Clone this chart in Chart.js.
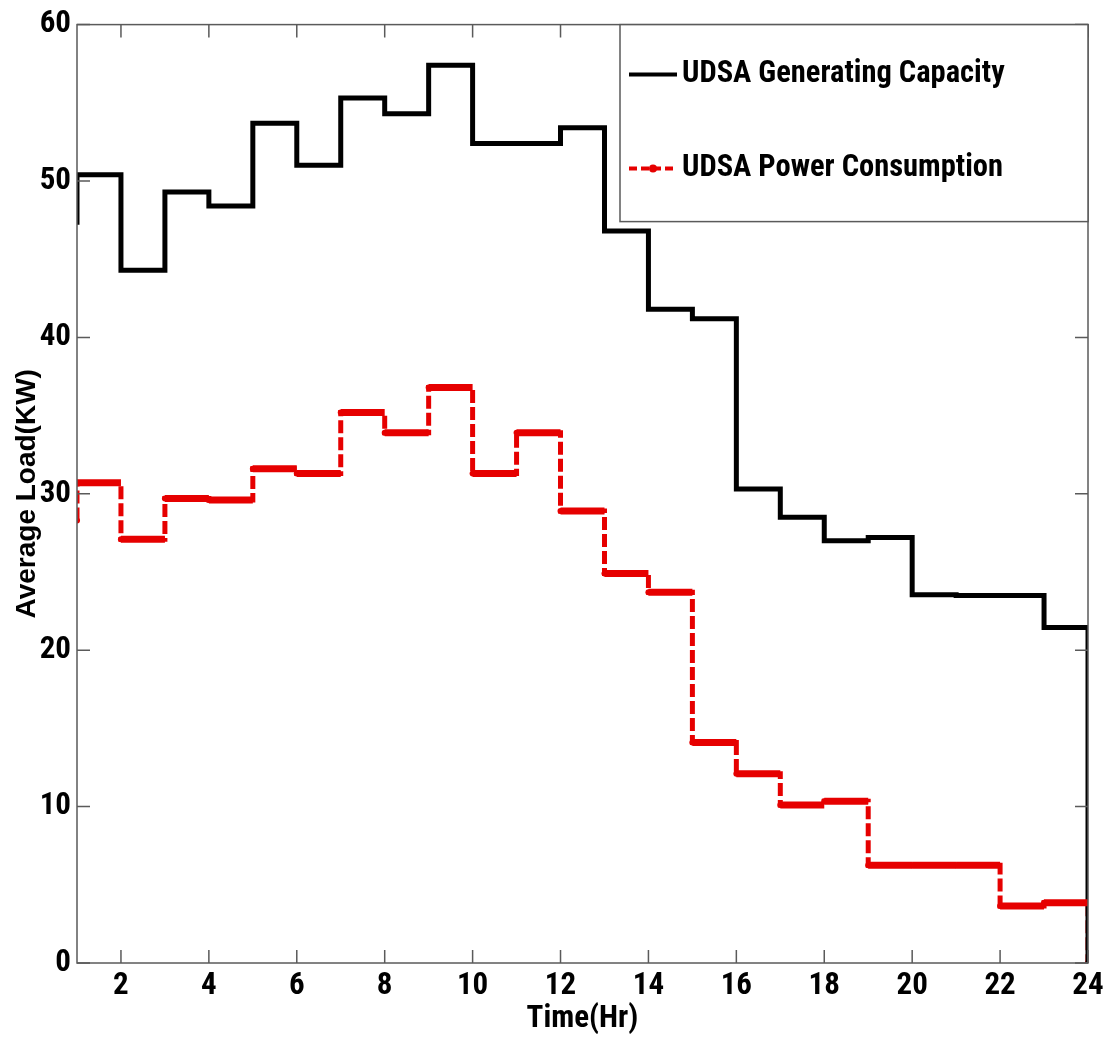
<!DOCTYPE html>
<html>
<head>
<meta charset="utf-8">
<style>
  html, body { margin: 0; padding: 0; background: #fff; }
  #grafico { display: block; }
</style>
</head>
<body>
<canvas id="grafico" width="1111" height="1038"></canvas>
<script src="https://cdn.jsdelivr.net/npm/chart.js@4.4.1/dist/chart.umd.min.js"></script>
<script>
// data (stairs: value i is held from hours[i] to hours[i+1])
const hours = [1, 1, 2, 3, 4, 5, 6, 7, 8, 9, 10, 11, 12, 13, 14, 15, 16, 17, 18, 19, 20, 21, 22, 23, 24];
const generatingCapacity = [47.2, 50.4, 44.3, 49.3, 48.4, 53.7, 51.0, 55.3, 54.3, 57.4, 52.4, 52.4, 53.4, 46.8, 41.8, 41.2, 30.3, 28.5, 27.0, 27.2, 23.55, 23.5, 23.5, 21.45, 0];
const powerConsumption = [28.3, 30.7, 27.1, 29.7, 29.6, 31.6, 31.3, 35.2, 33.9, 36.8, 31.3, 33.9, 28.9, 24.9, 23.7, 14.1, 12.1, 10.1, 10.35, 6.25, 6.25, 6.25, 3.65, 3.85, 0];
const xTicks = [2, 4, 6, 8, 10, 12, 14, 16, 18, 20, 22, 24];
const yTicks = [0, 10, 20, 30, 40, 50, 60];
const seriesNames = ['UDSA Generating Capacity', 'UDSA Power Consumption'];

// Roboto squeezed with font-stretch looks close to arial narrow bold
const narrowFont = size => ({ family: 'Roboto', size: size, weight: 'bold condensed' });
const red = '#e60000';

const toPoints = vals => vals.map((v, i) => ({ x: hours[i], y: v }));

// solid horizontal parts of the red stairs (the dashes only show on the risers)
const redTreads = {
  id: 'redTreads',
  afterDatasetsDraw(chart) {
    const pts = chart.getDatasetMeta(1).data;
    const ctx = chart.ctx, a = chart.chartArea;
    ctx.save();
    ctx.beginPath();
    ctx.rect(a.left, a.top - 5, a.right - a.left + 5, a.bottom - a.top + 10);
    ctx.clip();
    ctx.strokeStyle = red;
    ctx.lineWidth = 7;
    ctx.lineCap = 'butt';
    for (let i = 0; i < pts.length - 1; i++) {
      ctx.beginPath();
      ctx.moveTo(pts[i].x, pts[i].y);
      ctx.lineTo(pts[i + 1].x, pts[i].y);
      ctx.stroke();
    }
    ctx.restore();
  }
};

// box, inward ticks and boxed legend, matlab style
const frameLegend = {
  id: 'frameLegend',
  afterDraw(chart) {
    const ctx = chart.ctx, a = chart.chartArea;
    const sx = chart.scales.x, sy = chart.scales.y;
    const tl = 13;
    ctx.save();
    ctx.strokeStyle = '#5a5a5a';
    ctx.lineWidth = 1.5;
    ctx.strokeRect(a.left, a.top, a.right - a.left, a.bottom - a.top);
    ctx.beginPath();
    xTicks.forEach(v => {
      const px = sx.getPixelForValue(v);
      ctx.moveTo(px, a.bottom); ctx.lineTo(px, a.bottom - tl);
      ctx.moveTo(px, a.top); ctx.lineTo(px, a.top + tl);
    });
    yTicks.forEach(v => {
      const py = sy.getPixelForValue(v);
      ctx.moveTo(a.left, py); ctx.lineTo(a.left + tl, py);
      ctx.moveTo(a.right, py); ctx.lineTo(a.right - tl, py);
    });
    ctx.stroke();

    // legend box
    const w = 468, h = 197;
    const bx = a.right - w, by = a.top;
    ctx.fillStyle = '#fff';
    ctx.fillRect(bx, by, w, h);
    ctx.strokeRect(bx, by, w, h);
    const rows = [by + 50, by + 144];
    chart.data.datasets.forEach((ds, i) => {
      const y = rows[i];
      ctx.save();
      ctx.strokeStyle = ds.borderColor;
      ctx.lineWidth = 4;
      if (i === 1) ctx.setLineDash([8, 4]);
      ctx.beginPath();
      ctx.moveTo(bx + 9, y);
      ctx.lineTo(bx + 57, y);
      ctx.stroke();
      if (i === 1) {
        ctx.fillStyle = ds.borderColor;
        ctx.beginPath();
        ctx.arc(bx + 33, y, 4, 0, Math.PI * 2);
        ctx.fill();
      }
      ctx.restore();
      ctx.fillStyle = '#000';
      ctx.font = 'bold condensed 30.5px Roboto';
      ctx.textBaseline = 'middle';
      ctx.textAlign = 'left';
      ctx.fillText(ds.label, bx + 62, y);
    });
    ctx.restore();
  }
};

const ctx = document.getElementById('grafico').getContext('2d');
new Chart(ctx, {
  type: 'line',
  data: {
    datasets: [{
      label: seriesNames[0],
      data: toPoints(generatingCapacity),
      borderColor: '#000',
      borderWidth: 5,
      stepped: 'before',
      pointRadius: 0,
      fill: false
    }, {
      label: seriesNames[1],
      data: toPoints(powerConsumption),
      borderColor: red,
      borderWidth: 5,
      borderDash: [13, 4],
      stepped: 'before',
      pointRadius: 3,
      pointBorderWidth: 0,
      pointBackgroundColor: red,
      fill: false
    }]
  },
  options: {
    responsive: false,
    animation: false,
    layout: { padding: { top: 23, right: 23, left: 0, bottom: 0 } },
    plugins: { legend: { display: false }, tooltip: { enabled: false } },
    scales: {
      x: {
        type: 'linear',
        min: 1,
        max: 24,
        afterBuildTicks: s => { s.ticks = xTicks.map(v => ({ value: v })); },
        afterFit: s => { s.height = 75; },
        grid: { display: false, drawTicks: false },
        border: { display: false },
        ticks: { color: '#000', padding: 5, maxRotation: 0, autoSkip: false, font: narrowFont(31) },
        title: { display: true, text: 'Time(Hr)', color: '#000', padding: 0, font: narrowFont(31) }
      },
      y: {
        type: 'linear',
        min: 0,
        max: 60,
        afterBuildTicks: s => { s.ticks = yTicks.map(v => ({ value: v })); },
        afterFit: s => { s.width = 77; },
        grid: { display: false, drawTicks: false },
        border: { display: false },
        ticks: { color: '#000', padding: 6, font: narrowFont(31) },
        title: { display: true, text: 'Average Load(KW)', color: '#000', padding: { top: 10, bottom: 0 }, font: { family: "'Liberation Sans', Arial, sans-serif", size: 28, weight: 'bold' } }
      }
    }
  },
  plugins: [redTreads, frameLegend]
});
</script>
</body>
</html>
